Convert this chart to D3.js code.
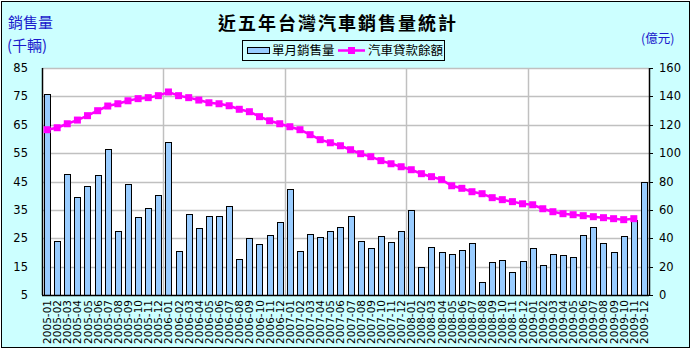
<!DOCTYPE html>
<html>
<head>
<meta charset="utf-8">
<script src="https://cdn.jsdelivr.net/npm/d3@7"></script>
<style>
  html, body { margin: 0; padding: 0; background: #fff; }
  svg { display: block; }
</style>
</head>
<body>
<div id="container"></div>
<script>
// categories
const months = [
  "2005-01","2005-02","2005-03","2005-04","2005-05","2005-06","2005-07","2005-08","2005-09","2005-10","2005-11","2005-12",
  "2006-01","2006-02","2006-03","2006-04","2006-05","2006-06","2006-07","2006-08","2006-09","2006-10","2006-11","2006-12",
  "2007-01","2007-02","2007-03","2007-04","2007-05","2007-06","2007-07","2007-08","2007-09","2007-10","2007-11","2007-12",
  "2008-01","2008-02","2008-03","2008-04","2008-05","2008-06","2008-07","2008-08","2008-09","2008-10","2008-11","2008-12",
  "2009-01","2009-02","2009-03","2009-04","2009-05","2009-06","2009-07","2009-08","2009-09","2009-10","2009-11","2009-12"
];
// 單月銷售量 (千輛)
const sales = [
  75.7, 24.1, 47.5, 39.5, 43.3, 47.2, 56.3, 27.4, 44.0, 32.4, 35.6, 40.1,
  58.8, 20.4, 33.4, 28.5, 32.7, 32.7, 36.3, 17.6, 25.0, 22.9, 26.0, 30.6,
  42.2, 20.4, 26.4, 25.3, 27.4, 28.9, 32.7, 23.9, 21.5, 25.7, 23.6, 27.4,
  34.8, 14.8, 21.8, 20.0, 19.3, 20.8, 23.2, 9.5, 16.5, 17.2, 13.0, 16.9,
  21.5, 15.5, 19.3, 19.0, 18.3, 26.0, 28.9, 23.2, 20.0, 25.7, 31.3, 44.7
];
// 汽車貸款餘額 (億元)
const loans = [
  116.5, 117.9, 120.7, 123.3, 126.4, 129.9, 133.2, 134.8, 136.9, 138.4, 139.1, 140.5,
  143.1, 140.5, 139.1, 137.4, 135.5, 134.8, 133.4, 130.9, 129.2, 125.7, 122.8, 120.7,
  118.6, 116.5, 113.0, 109.5, 107.3, 105.2, 102.4, 99.6, 97.5, 94.7, 92.5, 90.4,
  88.3, 85.5, 83.4, 81.3, 77.0, 75.2, 72.8, 71.4, 68.6, 67.2, 65.8, 64.3,
  63.6, 60.8, 58.7, 57.3, 56.6, 55.9, 55.2, 54.5, 53.8, 53.1, 53.8, null
];
const leftTicks = [5, 15, 25, 35, 45, 55, 65, 75, 85];
const rightTicks = [0, 20, 40, 60, 80, 100, 120, 140, 160];

const width = 693, height = 352;
const plot = {left: 42, right: 649, top: 68, bottom: 295};
const latin = "'DejaVu Sans', Verdana, sans-serif";
const cjk = "'Noto Sans CJK TC', 'Noto Sans CJK SC', sans-serif";

const svg = d3.create("svg")
  .attr("width", width)
  .attr("height", height)
  .attr("viewBox", [0, 0, width, height]);

// background + outer frame
svg.append("rect")
  .attr("x", 1.5).attr("y", 1.5)
  .attr("width", 688).attr("height", 346)
  .attr("fill", "#ccffff")
  .attr("stroke", "black");

const x = d3.scaleBand()
  .domain(months)
  .range([plot.left, plot.right])
  .paddingInner(0.4)
  .paddingOuter(0.2);
const yL = d3.scaleLinear().domain([5, 85]).range([plot.bottom, plot.top]);
const yR = d3.scaleLinear().domain([0, 160]).range([plot.bottom, plot.top]);
const step = x.step();
const x0 = plot.left;

svg.append("rect")
  .attr("x", plot.left).attr("y", plot.top)
  .attr("width", plot.right - plot.left)
  .attr("height", plot.bottom - plot.top)
  .attr("fill", "white");

// horizontal grid
svg.append("g")
  .selectAll("line")
  .data(leftTicks.slice(1))
  .join("line")
  .attr("x1", plot.left).attr("x2", plot.right)
  .attr("y1", d => Math.round(yL(d)) + 0.5)
  .attr("y2", d => Math.round(yL(d)) + 0.5)
  .attr("stroke", "#c0c0c0")
  .attr("stroke-width", 1.5);

// vertical grid at year boundaries
const yearStarts = months.filter((m, i) => i > 0 && m.endsWith("-01"));
svg.append("g")
  .selectAll("line")
  .data(yearStarts)
  .join("line")
  .attr("x1", d => Math.round(x(d) - step * x.paddingInner() / 2) + 0.5)
  .attr("x2", d => Math.round(x(d) - step * x.paddingInner() / 2) + 0.5)
  .attr("y1", plot.top).attr("y2", plot.bottom)
  .attr("stroke", "#c0c0c0")
  .attr("stroke-width", 1.5);

// bars
svg.append("g")
  .selectAll("rect")
  .data(months.map((m, i) => ({m, v: sales[i]})))
  .join("rect")
  .attr("x", d => Math.round(x(d.m)) + 0.5)
  .attr("y", d => Math.round(yL(d.v)) + 0.5)
  .attr("width", Math.round(x.bandwidth()))
  .attr("height", d => plot.bottom - Math.round(yL(d.v)))
  .attr("fill", "#99ccff")
  .attr("stroke", "black")
  .attr("stroke-width", 1);

// axes lines
svg.append("line")
  .attr("x1", plot.left + 0.5).attr("x2", plot.left + 0.5)
  .attr("y1", plot.top).attr("y2", plot.bottom)
  .attr("stroke", "black").attr("stroke-width", 1.5);
svg.append("line")
  .attr("x1", plot.right + 0.5).attr("x2", plot.right + 0.5)
  .attr("y1", plot.top).attr("y2", plot.bottom)
  .attr("stroke", "black").attr("stroke-width", 1.5);
svg.append("line")
  .attr("x1", plot.left).attr("x2", plot.right)
  .attr("y1", plot.bottom + 0.5).attr("y2", plot.bottom + 0.5)
  .attr("stroke", "black").attr("stroke-width", 1.5);

// right ticks
svg.append("g")
  .selectAll("line")
  .data(rightTicks)
  .join("line")
  .attr("x1", plot.right).attr("x2", plot.right + 4)
  .attr("y1", d => Math.round(yR(d)) + 0.5)
  .attr("y2", d => Math.round(yR(d)) + 0.5)
  .attr("stroke", "black");

// loan line
const pts = months.map((m, i) => ({m, v: loans[i]})).filter(d => d.v != null);
const line = d3.line()
  .x(d => x(d.m) + x.bandwidth() / 2)
  .y(d => yR(d.v));
svg.append("path")
  .datum(pts)
  .attr("d", line)
  .attr("fill", "none")
  .attr("stroke", "#ff00ff")
  .attr("stroke-width", 2.5);
svg.append("g")
  .selectAll("rect")
  .data(pts)
  .join("rect")
  .attr("x", d => x(d.m) + x.bandwidth() / 2 - 3.5)
  .attr("y", d => yR(d.v) - 3.5)
  .attr("width", 7).attr("height", 7)
  .attr("fill", "#ff00ff");

// left tick labels
svg.append("g")
  .selectAll("text")
  .data(leftTicks)
  .join("text")
  .attr("x", 28)
  .attr("y", d => yL(d) + 4)
  .attr("text-anchor", "end")
  .attr("font-family", latin)
  .attr("font-size", 11.5)
  .text(d => d);

// right tick labels
svg.append("g")
  .selectAll("text")
  .data(rightTicks)
  .join("text")
  .attr("x", 659)
  .attr("y", d => yR(d) + 4)
  .attr("font-family", latin)
  .attr("font-size", 11.5)
  .text(d => d);

// x labels
svg.append("g")
  .selectAll("text")
  .data(months)
  .join("text")
  .attr("transform", d => `translate(${x(d) + x.bandwidth() / 2 + 4},300) rotate(-90)`)
  .attr("text-anchor", "end")
  .attr("font-family", latin)
  .attr("font-size", 10.5)
  .text(d => d);

// title
svg.append("text")
  .attr("x", 338).attr("y", 30)
  .attr("text-anchor", "middle")
  .attr("font-family", cjk)
  .attr("font-weight", "bold")
  .attr("font-size", 18)
  .attr("letter-spacing", 2)
  .text("近五年台灣汽車銷售量統計");

// axis titles
const blue = "#1a1acc";
svg.append("text")
  .attr("x", 8).attr("y", 28)
  .attr("font-family", cjk).attr("font-size", 15)
  .attr("fill", blue)
  .text("銷售量");
svg.append("text")
  .attr("x", 7).attr("y", 51)
  .attr("font-family", cjk).attr("font-size", 15)
  .attr("fill", blue)
  .text("(千輛)");
svg.append("text")
  .attr("x", 641).attr("y", 43)
  .attr("font-family", cjk).attr("font-size", 12.5)
  .attr("fill", blue)
  .text("(億元)");

// legend
const lg = svg.append("g");
lg.append("rect")
  .attr("x", 242.5).attr("y", 40.5)
  .attr("width", 202).attr("height", 20)
  .attr("fill", "#ccffff")
  .attr("stroke", "black");
lg.append("rect")
  .attr("x", 247.5).attr("y", 47.5)
  .attr("width", 22).attr("height", 6)
  .attr("fill", "#99ccff")
  .attr("stroke", "black");
lg.append("text")
  .attr("x", 272).attr("y", 55)
  .attr("font-family", cjk).attr("font-size", 12.5)
  .text("單月銷售量");
lg.append("line")
  .attr("x1", 338).attr("x2", 365)
  .attr("y1", 50.5).attr("y2", 50.5)
  .attr("stroke", "#ff00ff").attr("stroke-width", 2.5);
lg.append("rect")
  .attr("x", 348).attr("y", 47)
  .attr("width", 7).attr("height", 7)
  .attr("fill", "#ff00ff");
lg.append("text")
  .attr("x", 368).attr("y", 55)
  .attr("font-family", cjk).attr("font-size", 12.5)
  .text("汽車貸款餘額");

document.getElementById("container").append(svg.node());
</script>
</body>
</html>
